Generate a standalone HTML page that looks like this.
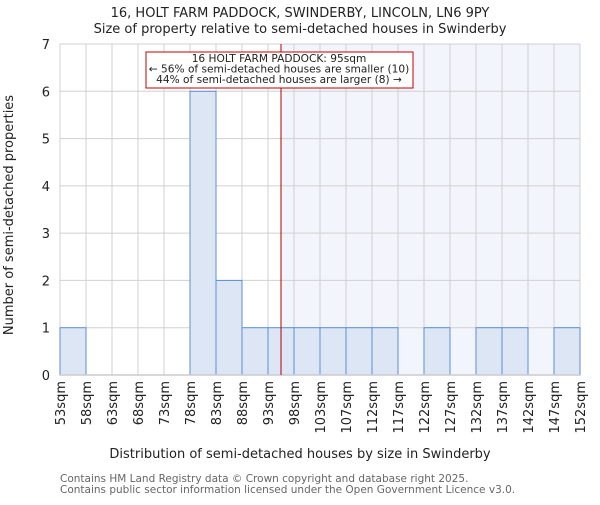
<!DOCTYPE html>
<html><head><meta charset="utf-8"><style>
body{margin:0;background:#fff}
svg{font-family:"DejaVu Sans","Liberation Sans",sans-serif}
</style></head><body>
<svg width="600" height="500" viewBox="0 0 600 500" xmlns="http://www.w3.org/2000/svg">
<rect width="600" height="500" fill="#fff"/>
<text x="300" y="17" text-anchor="middle" font-size="13" fill="#222">16, HOLT FARM PADDOCK, SWINDERBY, LINCOLN, LN6 9PY</text>
<text x="300" y="33" text-anchor="middle" font-size="13" fill="#222">Size of property relative to semi-detached houses in Swinderby</text>
<g id="plot"></g>
<text x="300" y="458" text-anchor="middle" font-size="13" fill="#222">Distribution of semi-detached houses by size in Swinderby</text>
<text transform="translate(13,215) rotate(-90)" text-anchor="middle" font-size="13" fill="#222">Number of semi-detached properties</text>
<text x="60" y="482" font-size="10.5" fill="#666">Contains HM Land Registry data © Crown copyright and database right 2025.</text>
<text x="60" y="493" font-size="10.5" fill="#666">Contains public sector information licensed under the Open Government Licence v3.0.</text>
</svg>
<script>
const binLabels=["53sqm","58sqm","63sqm","68sqm","73sqm","78sqm","83sqm","88sqm","93sqm","98sqm","103sqm","107sqm","112sqm","117sqm","122sqm","127sqm","132sqm","137sqm","142sqm","147sqm","152sqm"];
const counts=[1,0,0,0,0,6,2,1,1,1,1,1,1,0,1,0,1,1,0,1];
const yTicks=[0,1,2,3,4,5,6,7];
const propertyBinPos=[8.5];
const NS="http://www.w3.org/2000/svg";
const X0=60,X1=580,Y0=375,Y1=44,YMAX=7;
const bw=(X1-X0)/counts.length;
const xs=i=>X0+i*bw;
const ys=v=>Y0-(Y0-Y1)*v/YMAX;
const g=document.getElementById('plot');
function mk(t,a){const e=document.createElementNS(NS,t);for(const k in a)e.setAttribute(k,a[k]);g.appendChild(e);return e;}
const mx=xs(propertyBinPos[0]);
const hl=mk('rect',{x:mx,y:Y1,width:X1-mx,height:Y0-Y1,fill:'#f3f5fd'});


for(let i=0;i<binLabels.length;i++){
 const l=mk('line',{x1:xs(i),x2:xs(i),y1:Y1,y2:Y0,stroke:'#d0d0d0','stroke-width':1});
 
 
 const t=mk('text',{transform:`translate(${xs(i)+5},381) rotate(-90)`,'text-anchor':'end','font-size':13,fill:'#222'});
 t.textContent=binLabels[i];
 
 
}
yTicks.forEach(v=>{
 const l=mk('line',{x1:X0,x2:X1,y1:ys(v),y2:ys(v),stroke:'#d0d0d0','stroke-width':1});
 
 
 const t=mk('text',{x:50,y:ys(v)+5,'text-anchor':'end','font-size':13,fill:'#222'});
 t.textContent=v;
 
 
});
counts.forEach((c,i)=>{
 if(c<=0)return;
 const r=mk('rect',{x:xs(i),y:ys(c),width:bw,height:Y0-ys(c),fill:'#dce6f4',stroke:'#5b8fd6','stroke-width':1});
 
 
});
const ax=mk('line',{x1:X0,x2:X1,y1:Y0,y2:Y0,stroke:'#ccc','stroke-width':1.5});


const ml=mk('line',{x1:mx,x2:mx,y1:Y1,y2:Y0,stroke:'#b00000','stroke-width':1});


const box=mk('rect',{x:146,y:52,width:267,height:36,fill:'#fff',stroke:'#c00000','stroke-width':1});


const lines=["16 HOLT FARM PADDOCK: 95sqm","← 56% of semi-detached houses are smaller (10)","44% of semi-detached houses are larger (8) →"];
lines.forEach((s,i)=>{
 const t=mk('text',{x:279,y:62+i*10.5,'text-anchor':'middle','font-size':10.6,fill:'#222'});
 t.textContent=s;
 
 
});
</script>
</body></html>
